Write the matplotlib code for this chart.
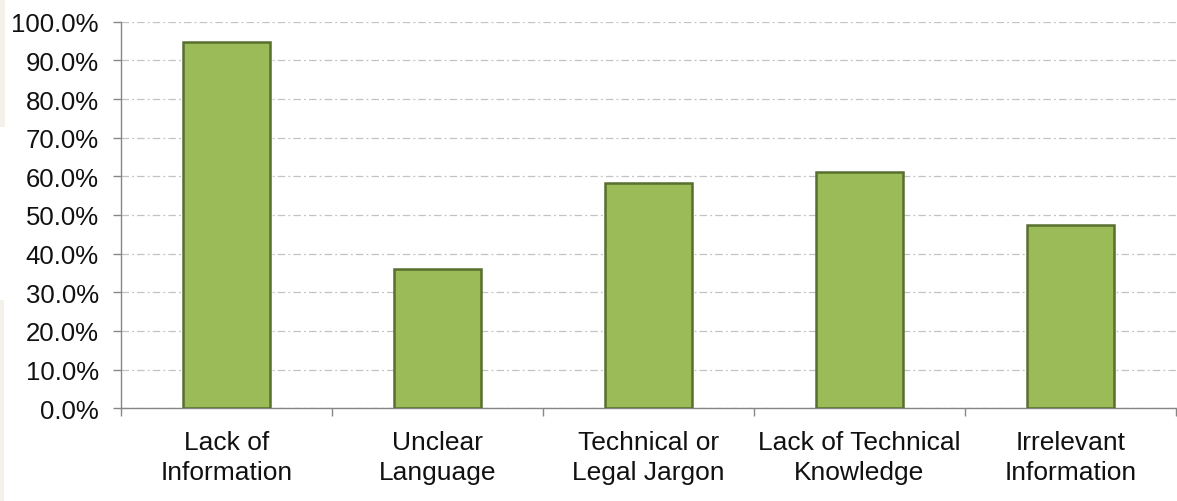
import matplotlib.pyplot as plt
from matplotlib.ticker import FuncFormatter
from matplotlib.patches import Rectangle

categories = ["Lack of\nInformation", "Unclear\nLanguage", "Technical or\nLegal Jargon",
              "Lack of Technical\nKnowledge", "Irrelevant\nInformation"]
values = [94.7, 36.0, 58.4, 61.1, 47.3]

plt.rcParams['font.family'] = ['Liberation Sans', 'DejaVu Sans']

fig = plt.figure(figsize=(11.77, 5.02), dpi=100)
# faint screenshot strip along the left edge
fig.patches.append(Rectangle((0, 0.745), 0.004, 0.255, transform=fig.transFigure,
                             facecolor='#f3f1ea', edgecolor='none', zorder=0))
fig.patches.append(Rectangle((0, 0.0), 0.003, 0.40, transform=fig.transFigure,
                             facecolor='#f3f1ea', edgecolor='none', zorder=0))

ax = fig.add_axes([0.1028, 0.1847, 0.8963, 0.7701])

x = range(len(categories))
ax.bar(x, values, width=0.41, color='#9bbb59', edgecolor='#586f2e',
       linewidth=1.8, zorder=3)

ax.set_xlim(-0.5, len(categories) - 0.5)
ax.set_ylim(0, 100)
ax.set_yticks(range(0, 101, 10))
ax.yaxis.set_major_formatter(FuncFormatter(lambda v, p: f"{v:.1f}%"))

ax.set_xticks(x)
ax.set_xticklabels(categories, fontsize=19, color='#111111', linespacing=1.34)
ax.set_xticks([i - 0.5 for i in range(len(categories) + 1)], minor=True)
ax.tick_params(axis='x', which='major', length=0, pad=15.5)
ax.tick_params(axis='x', which='minor', length=6, width=1, color='#868686', direction='out')
ax.tick_params(axis='y', length=6, width=1, color='#868686', labelsize=18.5,
               labelcolor='#111111', pad=10)

ax.yaxis.grid(True, color='#c3c3c3', linewidth=0.9, linestyle=(0, (6, 2.5, 1.5, 2.5)), zorder=0)
ax.set_axisbelow(True)

for s in ['top', 'right']:
    ax.spines[s].set_visible(False)
for s in ['left', 'bottom']:
    ax.spines[s].set_color('#868686')
    ax.spines[s].set_linewidth(1.0)

fig.savefig('out.png', dpi=100)
